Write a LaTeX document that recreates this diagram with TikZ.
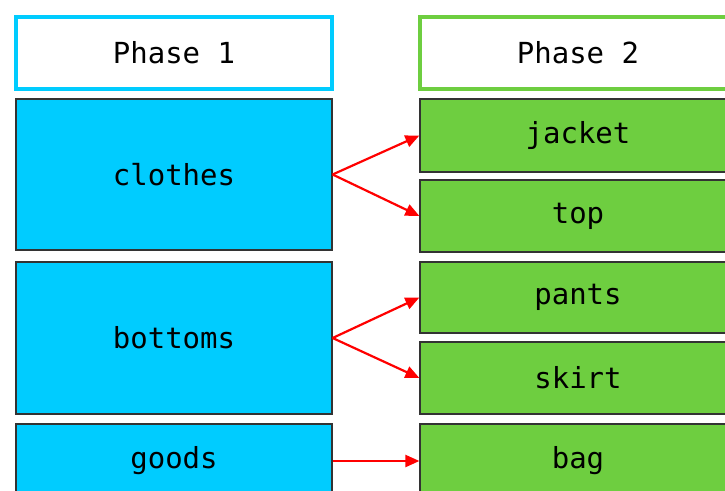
\documentclass[tikz,border=0pt]{standalone}
\usepackage{fontspec}
\setmonofont{DejaVu Sans Mono}
\usetikzlibrary{arrows.meta}

\definecolor{phaseblue}{RGB}{0,204,255}
\definecolor{phasegreen}{RGB}{110,206,64}
\definecolor{linkred}{RGB}{255,0,0}

\tikzset{
  header/.style={draw=#1, line width=4pt, fill=white, minimum width=316pt, minimum height=72pt, inner sep=0pt},
  card/.style={draw=black!80, line width=1.2pt, fill=#1, minimum width=316pt, inner sep=0pt},
  link/.style={draw=linkred, line width=2.2pt, -{Triangle[length=14pt,width=12pt]}}
}

\begin{document}
\begin{tikzpicture}[x=1pt,y=1pt,yscale=-1,font=\ttfamily\fontsize{29}{33}\selectfont]
\useasboundingbox (0,0) rectangle (725,490);
\clip (0,0) rectangle (725,490);

% Phase headers
\node[header=phaseblue] (phase1) at (174,53) {Phase 1};
\node[header=phasegreen] (phase2) at (578,53) {Phase 2};

% Phase 1 boxes
\node[card=phaseblue, minimum height=151pt] (clothes) at (174,174.5) {clothes};
\node[card=phaseblue, minimum height=152pt] (bottoms) at (174,338) {bottoms};
\node[card=phaseblue, minimum height=74pt] (goods) at (174,461) {goods};

% Phase 2 boxes
\node[card=phasegreen, minimum height=73pt] (jacket) at (578,135.5) {jacket};
\node[card=phasegreen, minimum height=72pt] (top) at (578,216) {top};
\node[card=phasegreen, minimum height=71pt] (pants) at (578,297.5) {pants};
\node[card=phasegreen, minimum height=72pt] (skirt) at (578,378) {skirt};
\node[card=phasegreen, minimum height=74pt] (bag) at (578,461) {bag};

% Links
\draw[link] (clothes.east) -- (jacket.west);
\draw[link] (clothes.east) -- (top.west);
\draw[link] (bottoms.east) -- (pants.west);
\draw[link] (bottoms.east) -- (skirt.west);
\draw[link] (goods.east) -- (bag.west);

\end{tikzpicture}
\end{document}
